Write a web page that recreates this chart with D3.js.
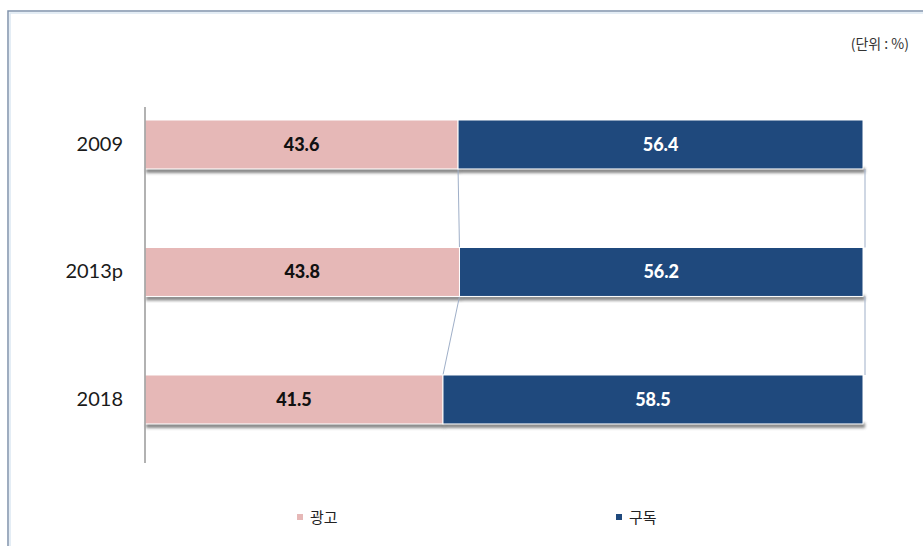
<!DOCTYPE html>
<html>
<head>
<meta charset="utf-8">
<script src="https://cdn.jsdelivr.net/npm/d3@7"></script>
<style>
  body { margin: 0; background: #fff; }
  svg { display: block; }
</style>
</head>
<body>
<div id="wrapper"></div>
<script>
// data
const years = ["2009", "2013p", "2018"]
const seriesNames = ["광고", "구독"]
const adValues = [43.6, 43.8, 41.5]
const subValues = [56.4, 56.2, 58.5]
const colors = ["#e6b8b7", "#1f497d"]
const labelColors = ["#111111", "#ffffff"]

const width = 923
const height = 546

const svg = d3.select("#wrapper")
    .append("svg")
    .attr("width", width)
    .attr("height", height)

const defs = svg.append("defs")
const shadow = defs.append("filter")
    .attr("id", "shadow")
    .attr("x", "-5%").attr("y", "-50%")
    .attr("width", "110%").attr("height", "200%")
shadow.append("feGaussianBlur").attr("stdDeviation", 1.5)

// outer frame
svg.append("rect")
    .attr("x", 8)
    .attr("y", 11)
    .attr("width", 930)
    .attr("height", 560)
    .attr("fill", "none")
    .attr("stroke", "#8093ac")
    .attr("stroke-width", 1.5)
svg.append("rect")
    .attr("x", 10)
    .attr("y", 13)
    .attr("width", 930)
    .attr("height", 560)
    .attr("fill", "none")
    .attr("stroke", "#dce8f2")
    .attr("stroke-width", 1.5)

// scales
const xScale = d3.scaleLinear()
    .domain([0, 100])
    .range([145, 863])

const yScale = d3.scaleBand()
    .domain(years)
    .range([81.75, 462.2])
    .paddingInner(0.616)
    .paddingOuter(0.3)

// stack
const rows = years.map((y, i) => ({ year: y, "광고": adValues[i], "구독": subValues[i] }))
const stacked = d3.stack().keys(seriesNames)(rows)

// shadows
const shadowG = svg.append("g")
stacked.forEach(s => {
    shadowG.selectAll(null)
        .data(s)
        .join("rect")
        .attr("x", d => xScale(d[0]) + 1)
        .attr("y", d => yScale(d.data.year) + yScale.bandwidth() - 1)
        .attr("width", d => xScale(d[1]) - xScale(d[0]) + 1)
        .attr("height", 5)
        .attr("fill", "#666")
        .attr("opacity", 0.8)
        .attr("filter", "url(#shadow)")
})

// series lines
const lineG = svg.append("g")
stacked.forEach(s => {
    for (let i = 0; i < s.length - 1; i++) {
        lineG.append("line")
            .attr("x1", xScale(s[i][1]) + (s[i][1] === 100 ? 2 : 0))
            .attr("y1", yScale(s[i].data.year) + yScale.bandwidth())
            .attr("x2", xScale(s[i + 1][1]) + (s[i + 1][1] === 100 ? 2 : 0))
            .attr("y2", yScale(s[i + 1].data.year))
            .attr("stroke", "#9fafc8")
            .attr("stroke-width", 1)
    }
})

// bars
const barG = svg.append("g")
stacked.forEach((s, k) => {
    barG.selectAll(null)
        .data(s)
        .join("rect")
        .attr("x", d => xScale(d[0]))
        .attr("y", d => yScale(d.data.year))
        .attr("width", d => xScale(d[1]) - xScale(d[0]))
        .attr("height", yScale.bandwidth())
        .attr("fill", colors[k])
        .attr("stroke", "#fff")
        .attr("stroke-width", 1)

    barG.selectAll(null)
        .data(s)
        .join("text")
        .attr("x", d => (xScale(d[0]) + xScale(d[1])) / 2)
        .attr("y", d => yScale(d.data.year) + yScale.bandwidth() / 2)
        .attr("dy", "0.35em")
        .attr("text-anchor", "middle")
        .attr("font-family", "Lato, 'Noto Sans', sans-serif")
        .attr("font-weight", "900")
        .attr("font-size", 18)
        .attr("fill", labelColors[k])
        .text(d => (d[1] - d[0]).toFixed(1))
})

// axis
const yAxis = svg.append("g")
    .attr("transform", "translate(145,0)")
    .call(d3.axisLeft(yScale).tickSize(0).tickPadding(22))
yAxis.select(".domain").remove()
yAxis.selectAll("text")
    .attr("font-family", "Lato, 'Noto Sans', sans-serif")
    .attr("font-size", 20)
    .attr("fill", "#1a1a1a")
svg.append("line")
    .attr("x1", 145).attr("x2", 145)
    .attr("y1", 107).attr("y2", 463)
    .attr("stroke", "#999")
    .attr("stroke-width", 1.5)

// unit label
svg.append("text")
    .attr("x", 909)
    .attr("y", 49)
    .attr("text-anchor", "end")
    .attr("font-family", "'Noto Sans CJK KR', sans-serif")
    .attr("font-size", 14)
    .attr("fill", "#333")
    .text("(단위 : %)")

// legend
const legendX = [297, 616]
const legend = svg.append("g")
seriesNames.forEach((name, i) => {
    legend.append("rect")
        .attr("x", legendX[i])
        .attr("y", 514)
        .attr("width", 6)
        .attr("height", 6)
        .attr("fill", colors[i])
    legend.append("text")
        .attr("x", legendX[i] + 13)
        .attr("y", 518)
        .attr("dy", "0.35em")
        .attr("font-family", "'Noto Sans CJK KR', sans-serif")
        .attr("font-size", 15)
        .attr("fill", "#222")
        .text(name)
})
</script>
</body>
</html>
